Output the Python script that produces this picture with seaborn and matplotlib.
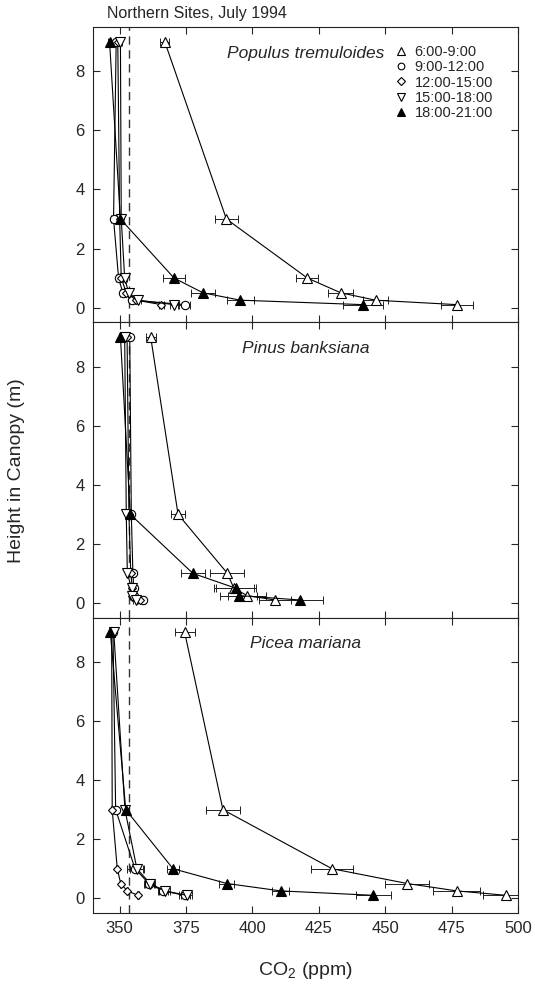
import matplotlib
matplotlib.use("Agg")
import matplotlib.pyplot as plt
from matplotlib.lines import Line2D
import seaborn as sns
import numpy as np

sns.set_style("ticks")
plt.rcParams['font.family'] = ['Liberation Sans', 'DejaVu Sans']
plt.rcParams['mathtext.fontset'] = 'custom'
plt.rcParams['mathtext.rm'] = 'Liberation Sans'

heights = [9, 3, 1, 0.5, 0.25, 0.1]
periods = ["6:00-9:00", "9:00-12:00", "12:00-15:00", "15:00-18:00", "18:00-21:00"]
species = ["Populus tremuloides", "Pinus banksiana", "Picea mariana"]

# Populus tremuloides
pt_6_9 = [367.0, 390.2, 420.7, 433.3, 446.4, 477.0]
pt_6_9_err = [1.7, 4.2, 4.1, 4.7, 4.7, 6.0]
pt_9_12 = [348.7, 347.7, 349.6, 351.2, 354.8, 374.5]
pt_9_12_err = [0.6, 0.8, 1.0, 1.0, 1.0, 2.0]
pt_12_15 = [349.3, 350.0, 350.6, 352.5, 356.3, 365.7]
pt_12_15_err = [0.5, 0.6, 0.8, 0.8, 1.0, 1.0]
pt_15_18 = [350.3, 350.6, 351.9, 353.4, 356.9, 370.5]
pt_15_18_err = [0.5, 0.6, 0.8, 1.0, 1.0, 1.5]
pt_18_21 = [346.2, 350.3, 370.5, 381.4, 395.5, 441.7]
pt_18_21_err = [0.5, 0.8, 4.0, 4.4, 5.2, 7.5]

# Pinus banksiana
pb_6_9 = [361.7, 372.0, 390.6, 393.0, 398.0, 408.5]
pb_6_9_err = [1.9, 2.8, 6.4, 7.5, 7.0, 6.0]
pb_9_12 = [353.8, 354.4, 355.0, 355.3, 355.5, 358.8]
pb_9_12_err = [0.5, 0.6, 0.6, 0.6, 0.6, 0.8]
pb_12_15 = [352.8, 353.5, 354.2, 354.8, 354.5, 357.5]
pb_12_15_err = [0.5, 0.5, 0.6, 0.6, 0.6, 0.8]
pb_15_18 = [351.9, 352.5, 352.9, 354.5, 354.8, 356.0]
pb_15_18_err = [0.5, 0.5, 0.6, 0.6, 0.6, 0.8]
pb_18_21 = [350.3, 354.0, 377.6, 393.7, 394.8, 417.8]
pb_18_21_err = [0.5, 0.8, 4.4, 7.5, 7.0, 8.8]

# Picea mariana
pm_6_9 = [374.5, 388.9, 430.0, 458.3, 476.9, 495.5]
pm_6_9_err = [3.8, 6.5, 8.0, 8.3, 8.8, 8.8]
pm_9_12 = [347.5, 348.5, 355.8, 361.0, 366.3, 374.5]
pm_9_12_err = [0.5, 0.8, 3.0, 2.0, 2.0, 2.0]
pm_12_15 = [347.0, 347.2, 349.1, 350.4, 352.9, 356.9]
pm_12_15_err = [0.3, 0.3, 0.3, 0.3, 0.3, 0.3]
pm_15_18 = [347.8, 352.0, 356.5, 361.5, 367.0, 375.3]
pm_15_18_err = [0.5, 0.8, 2.5, 2.0, 2.0, 2.0]
pm_18_21 = [346.5, 352.3, 370.1, 390.4, 410.6, 445.5]
pm_18_21_err = [0.5, 0.8, 2.2, 2.8, 3.2, 6.6]

ambient = 353.5

panels = [
    [(pt_6_9, pt_6_9_err), (pt_9_12, pt_9_12_err), (pt_12_15, pt_12_15_err),
     (pt_15_18, pt_15_18_err), (pt_18_21, pt_18_21_err)],
    [(pb_6_9, pb_6_9_err), (pb_9_12, pb_9_12_err), (pb_12_15, pb_12_15_err),
     (pb_15_18, pb_15_18_err), (pb_18_21, pb_18_21_err)],
    [(pm_6_9, pm_6_9_err), (pm_9_12, pm_9_12_err), (pm_12_15, pm_12_15_err),
     (pm_15_18, pm_15_18_err), (pm_18_21, pm_18_21_err)],
]

styles = [
    dict(marker='^', mfc='white', ms=6.5),
    dict(marker='o', mfc='white', ms=6),
    dict(marker='D', mfc='white', ms=4.5),
    dict(marker='v', mfc='white', ms=6.5),
    dict(marker='^', mfc='black', ms=6.5),
]

fig = plt.figure(figsize=(5.35, 9.86), dpi=100)
gs = fig.add_gridspec(3, 1, left=0.174, right=0.968, bottom=0.074, top=0.9726, hspace=0)
axes = [fig.add_subplot(gs[i]) for i in range(3)]

for ax, series, name in zip(axes, panels, species):
    ax.axvline(ambient, color='#333333', lw=1.0, ls=(0, (6, 4)), zorder=1)
    for (xs, errs), st in zip(series, styles):
        ax.errorbar(xs, heights, xerr=errs, fmt='none', ecolor='#222222',
                    elinewidth=0.7, capsize=3.2, capthick=0.7, zorder=2)
        sns.lineplot(x=xs, y=heights, ax=ax, sort=False, estimator=None,
                     color='black', lw=0.8, marker=st['marker'],
                     markerfacecolor=st['mfc'], markeredgecolor='black',
                     markeredgewidth=0.8, markersize=st['ms'], zorder=3)
    ax.set_xlim(340, 500)
    ax.set_ylim(-0.5, 9.5)
    ax.set_xticks([350, 375, 400, 425, 450, 475, 500])
    ax.set_yticks([0, 2, 4, 6, 8])
    ax.tick_params(direction='in', top=True, right=True, length=5, width=0.8,
                   labelsize=12, pad=6)
    for s in ax.spines.values():
        s.set_linewidth(0.8)
        s.set_color('#222222')
    ax.set_xlabel('')
    ax.set_ylabel('')
    ax.text(0.5, 0.912, name, transform=ax.transAxes, ha='center', va='center',
            style='italic', fontsize=12.5)
    if ax is not axes[-1]:
        ax.tick_params(labelbottom=False)

handles = [Line2D([], [], ls='none', marker=st['marker'], mfc=st['mfc'], mec='black',
                  mew=0.8, ms=st['ms'] * 0.8) for st in styles]
axes[0].legend(handles, periods, loc='upper right', bbox_to_anchor=(0.965, 0.975),
               frameon=False, fontsize=10.5, handlelength=1.0, handletextpad=0.4,
               labelspacing=0.1, borderaxespad=0.3)

fig.text(0.2, 0.986, "Northern Sites, July 1994", ha='left', va='center', fontsize=11.5)
fig.text(0.57, 0.016, "CO$_2$ (ppm)", ha='center', va='center', fontsize=14)
fig.text(0.03, 0.523, "Height in Canopy (m)", ha='center', va='center',
         rotation=90, fontsize=14)

fig.savefig("out.png", dpi=100)
